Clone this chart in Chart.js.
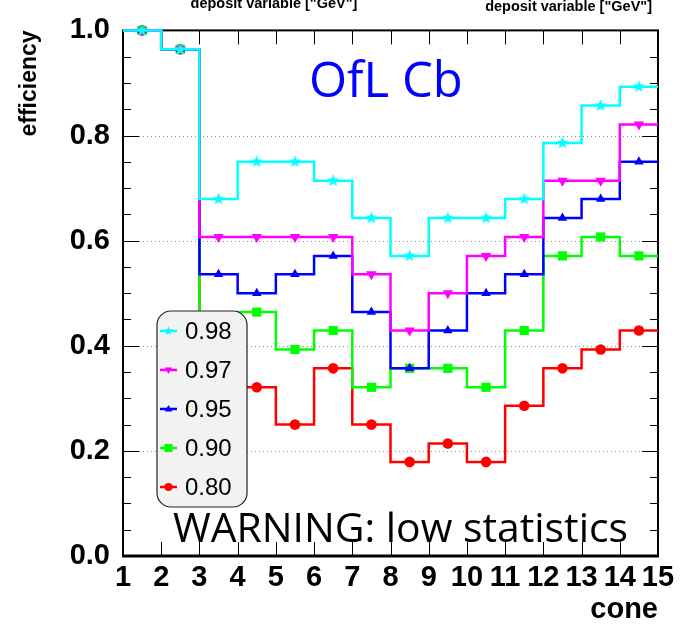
<!DOCTYPE html>
<html><head><meta charset="utf-8">
<script src="https://cdn.jsdelivr.net/npm/chart.js@4/dist/chart.umd.min.js"></script>
<style>html,body{margin:0;padding:0;background:#fff}canvas{display:block}</style>
</head><body>
<canvas id="c" width="695" height="624"></canvas>
<script>
// ---- data ----
const binEdges = [1,2,3,4,5,6,7,8,9,10,11,12,13,14,15];
const binCenters = [1.5,2.5,3.5,4.5,5.5,6.5,7.5,8.5,9.5,10.5,11.5,12.5,13.5,14.5];
const xTickValues = [1,2,3,4,5,6,7,8,9,10,11,12,13,14,15];
const yTickValues = [0.0,0.2,0.4,0.6,0.8,1.0];
const seriesLabels = ['0.98','0.97','0.95','0.90','0.80'];
const eff098 = [1.000,0.964,0.679,0.750,0.750,0.714,0.643,0.571,0.643,0.643,0.679,0.786,0.857,0.893];
const eff097 = [1.000,0.964,0.607,0.607,0.607,0.607,0.536,0.429,0.500,0.571,0.607,0.714,0.714,0.821];
const eff095 = [1.000,0.964,0.536,0.500,0.536,0.571,0.464,0.357,0.429,0.500,0.536,0.643,0.679,0.750];
const eff090 = [1.000,0.964,0.393,0.464,0.393,0.429,0.321,0.357,0.357,0.321,0.429,0.571,0.607,0.571];
const eff080 = [1.000,0.964,0.286,0.321,0.250,0.357,0.250,0.179,0.214,0.179,0.286,0.357,0.393,0.429];

// ---- styles ----
const colors = ['#00ffff','#ff00ff','#0000ff','#00ff00','#ff0000'];
const markerKinds = ['star','tridown','triup','square','circle'];

function makeStar(color, size){
  const c = document.createElement('canvas');
  c.width = size; c.height = size;
  const g = c.getContext('2d');
  starPath(g, size/2, size/2, size/2);
  g.fillStyle = color; g.fill();
  return c;
}
function starPath(g, cx, cy, R){
  const r = R*0.42;
  g.beginPath();
  for (let i=0;i<10;i++){
    const ang = -Math.PI/2 + i*Math.PI/5;
    const rr = (i%2===0)?R:r;
    const px = cx + rr*Math.cos(ang), py = cy + rr*Math.sin(ang);
    if (i===0) g.moveTo(px,py); else g.lineTo(px,py);
  }
  g.closePath();
}

function stepData(vals){
  const pts = [{x:binEdges[0], y:vals[0]}];
  vals.forEach((v,i)=>pts.push({x:binCenters[i], y:v}));
  pts.push({x:binEdges[binEdges.length-1], y:vals[vals.length-1]});
  return pts;
}

const allVals = [eff098, eff097, eff095, eff090, eff080];
const pointCfg = [
  {style: makeStar(colors[0], 13), r:5, rot:0},
  {style: 'triangle', r:6, rot:180},
  {style: 'triangle', r:5.5, rot:0},
  {style: 'rect', r:6.5, rot:0},
  {style: 'circle', r:5.3, rot:0}
];

const datasets = allVals.map((vals,i)=>({
  label: seriesLabels[i],
  data: stepData(vals),
  stepped: 'middle',
  borderColor: colors[i],
  backgroundColor: colors[i],
  borderWidth: 2.5,
  borderJoinStyle: 'miter',
  borderCapStyle: 'butt',
  fill: false,
  clip: false,
  pointStyle: pointCfg[i].style,
  pointRotation: pointCfg[i].rot,
  pointBorderWidth: 0,
  pointBackgroundColor: colors[i],
  pointBorderColor: colors[i],
  pointRadius: ctx => (ctx.dataIndex===0 || ctx.dataIndex===ctx.dataset.data.length-1) ? 0 : pointCfg[i].r,
  pointHoverRadius: 0
}));

function drawMarker(g, kind, x, y, s, color){
  g.save(); g.fillStyle = color;
  g.beginPath();
  if (kind==='circle'){ g.arc(x,y,s,0,Math.PI*2); }
  else if (kind==='square'){ g.rect(x-s,y-s,2*s,2*s); }
  else if (kind==='triup'){ g.moveTo(x,y-s); g.lineTo(x+s*0.95,y+s*0.6); g.lineTo(x-s*0.95,y+s*0.6); g.closePath(); }
  else if (kind==='tridown'){ g.moveTo(x,y+s); g.lineTo(x+s*0.95,y-s*0.6); g.lineTo(x-s*0.95,y-s*0.6); g.closePath(); }
  else if (kind==='star'){ starPath(g,x,y,s*1.2); }
  g.fill(); g.restore();
}

const decor = {
  id: 'decor',
  beforeDatasetsDraw(chart){
    const {ctx, chartArea:a, scales:{x, y}} = chart;
    ctx.save();
    // dotted grid
    ctx.strokeStyle = '#8a8a8a'; ctx.lineWidth = 1; ctx.setLineDash([1,3]);
    yTickValues.forEach(v=>{
      if (v<=0 || v>=1) return;
      const py = Math.round(y.getPixelForValue(v)) + 0.5;
      ctx.beginPath(); ctx.moveTo(a.left, py); ctx.lineTo(a.right, py); ctx.stroke();
    });
    ctx.setLineDash([]);
    ctx.strokeStyle = '#000'; ctx.lineWidth = 1;
    // y ticks (major 0.2, minor 0.05)
    for (let i=1;i<20;i++){
      const v = i*0.05;
      const py = Math.round(y.getPixelForValue(v)) + 0.5;
      const L = (i%4===0) ? 16 : 8;
      ctx.beginPath();
      ctx.moveTo(a.left, py); ctx.lineTo(a.left+L, py);
      ctx.moveTo(a.right-L, py); ctx.lineTo(a.right, py);
      ctx.stroke();
    }
    // x ticks
    xTickValues.forEach(v=>{
      if (v===xTickValues[0] || v===xTickValues[xTickValues.length-1]) return;
      const px = Math.round(x.getPixelForValue(v)) + 0.5;
      ctx.beginPath();
      ctx.moveTo(px, a.bottom); ctx.lineTo(px, a.bottom-14);
      ctx.moveTo(px, a.top); ctx.lineTo(px, a.top+14);
      ctx.stroke();
    });
    // frame
    ctx.lineWidth = 2;
    ctx.strokeRect(a.left, a.top, a.right-a.left, a.bottom-a.top);
    ctx.lineWidth = 3;
    ctx.beginPath(); ctx.moveTo(a.left-1, a.bottom); ctx.lineTo(a.right+1, a.bottom); ctx.stroke();
    ctx.restore();
  },
  afterDatasetsDraw(chart){
    const ctx = chart.ctx;
    ctx.save();
    // legend box
    const bx=157, by=311, bw=90, bh=196, br=14;
    ctx.beginPath();
    if (ctx.roundRect) ctx.roundRect(bx,by,bw,bh,br); else ctx.rect(bx,by,bw,bh);
    ctx.fillStyle = '#f2f2f2'; ctx.fill();
    ctx.strokeStyle = '#222'; ctx.lineWidth = 1.2; ctx.stroke();
    chart.data.datasets.forEach((ds,i)=>{
      const yy = 331 + i*39;
      ctx.strokeStyle = colors[i]; ctx.lineWidth = 2.5;
      ctx.beginPath(); ctx.moveTo(160, yy); ctx.lineTo(177, yy); ctx.stroke();
      drawMarker(ctx, markerKinds[i], 168.5, yy, 4, colors[i]);
      ctx.fillStyle = '#000';
      ctx.font = '24px "Liberation Sans", Arial, sans-serif';
      ctx.textAlign = 'left'; ctx.textBaseline = 'middle';
      ctx.fillText(ds.label, 185, yy+1);
    });
    ctx.restore();
  },
  afterDraw(chart){
    const ctx = chart.ctx;
    ctx.save();
    ctx.fillStyle = '#0000ff';
    ctx.font = '49px "Open Sans", sans-serif';
    ctx.textAlign = 'left'; ctx.textBaseline = 'alphabetic';
    ctx.fillText('OfL Cb', 309, 97);
    ctx.fillStyle = '#000';
    ctx.font = '41px "Open Sans", sans-serif';
    ctx.fillText('WARNING: low statistics', 173, 542, 455);
    ctx.font = 'bold 14.5px "Liberation Sans", Arial, sans-serif';
    ctx.textAlign = 'center';
    ctx.fillText('deposit variable ["GeV"]', 274, 8);
    ctx.textAlign = 'right';
    ctx.fillText('deposit variable ["GeV"]', 652, 11);
    ctx.restore();
  }
};

const tickFont = {family: '"Liberation Sans", Arial, sans-serif', weight: 'bold', size: 29};

new Chart(document.getElementById('c'), {
  type: 'line',
  data: {datasets},
  options: {
    responsive: false,
    animation: false,
    events: [],
    layout: {padding: {top: 22, right: 37, left: 0, bottom: 0}},
    plugins: {legend: {display: false}, tooltip: {enabled: false}, title: {display: false}},
    scales: {
      x: {
        type: 'linear', min: 1, max: 15,
        afterFit: s => { s.height = 68; },
        afterBuildTicks: s => { s.ticks = xTickValues.map(v=>({value:v})); },
        grid: {display: false, drawTicks: false},
        border: {display: false},
        ticks: {font: tickFont, color: '#000', padding: 5, autoSkip: false, maxRotation: 0, callback: v => String(v)},
        title: {display: true, text: 'cone', align: 'end', color: '#000',
          font: {family: '"Liberation Sans", Arial, sans-serif', weight: 'bold', size: 29, lineHeight: 1.0},
          padding: {top: 0, bottom: 0}}
      },
      y: {
        type: 'linear', min: 0, max: 1,
        afterFit: s => { s.width = 123; },
        afterBuildTicks: s => { s.ticks = yTickValues.map(v=>({value:v})); },
        grid: {display: false, drawTicks: false},
        border: {display: false},
        ticks: {font: tickFont, color: '#000', padding: 13, callback: v => Number(v).toFixed(1)},
        title: {display: true, text: 'efficiency', align: 'end', color: '#000',
          font: {family: '"Liberation Sans", Arial, sans-serif', weight: 'bold', size: 23},
          padding: {top: 16, bottom: 0}}
      }
    }
  },
  plugins: [decor]
});
</script>
</body></html>
